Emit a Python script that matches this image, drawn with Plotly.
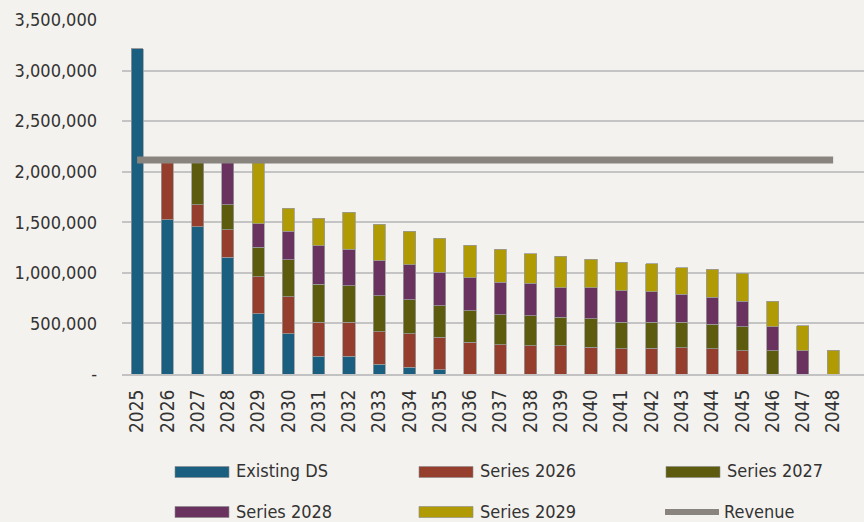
import plotly.graph_objects as go

years = [2025, 2026, 2027, 2028, 2029, 2030, 2031, 2032, 2033, 2034, 2035, 2036,
         2037, 2038, 2039, 2040, 2041, 2042, 2043, 2044, 2045, 2046, 2047, 2048, 2049]

existing_ds = [3215000, 1525000, 1458000, 1152000, 594000, 399000, 178000, 178000, 96000,
               66000, 40000, 0, 0, 0, 0, 0, 0, 0, 0, 0, 0, 0, 0, 0, 0]
series_2026 = [0, 580000, 215000, 274000, 369000, 367000, 334000, 334000, 323000, 330000,
               323000, 314000, 287000, 280000, 277000, 264000, 250000, 254000, 261000,
               248000, 231000, 0, 0, 0, 0]
series_2027 = [0, 0, 432000, 247000, 291000, 363000, 376000, 359000, 356000, 337000,
               310000, 310000, 297000, 297000, 284000, 284000, 262000, 258000, 251000,
               244000, 238000, 231000, 0, 0, 0]
series_2028 = [0, 0, 0, 432000, 231000, 284000, 382000, 363000, 344000, 346000, 334000,
               326000, 324000, 320000, 294000, 303000, 313000, 303000, 277000, 267000,
               251000, 238000, 231000, 0, 0]
series_2029 = [0, 0, 0, 0, 620000, 224000, 268000, 363000, 363000, 334000, 336000, 324000,
               323000, 294000, 307000, 284000, 281000, 277000, 264000, 277000, 277000,
               251000, 248000, 234000, 0]
revenue = [2116000, 2116000, 2116000, 2116000, 2116000, 2116000, 2116000, 2116000,
           2116000, 2116000, 2116000, 2116000, 2116000, 2116000, 2116000, 2116000,
           2116000, 2116000, 2116000, 2116000, 2116000, 2116000, 2116000, 2116000, None]

y_ticks = [0, 500000, 1000000, 1500000, 2000000, 2500000, 3000000, 3500000]
y_tick_text = ["-", "500,000", "1,000,000", "1,500,000", "2,000,000", "2,500,000",
               "3,000,000", "3,500,000"]

bar_series = [
    ("Existing DS", existing_ds, "#1b5f80"),
    ("Series 2026", series_2026, "#963e2d"),
    ("Series 2027", series_2027, "#5c5b0e"),
    ("Series 2028", series_2028, "#6a335f"),
    ("Series 2029", series_2029, "#b19b05"),
]
revenue_name = "Revenue"
revenue_color = "#8a847f"

FONT = "Liberation Sans Narrow, DejaVu Sans Condensed, Arial Narrow, Liberation Sans, Arial, sans-serif"
TEXT_COLOR = "#333333"
BG = "#f3f2ee"

fig = go.Figure()
for name, vals, color in bar_series:
    fig.add_trace(go.Bar(
        x=years, y=vals, name=name, width=0.4,
        marker=dict(color=color, line=dict(color="#9a9a9a", width=0.8)),
        showlegend=False,
    ))
fig.add_trace(go.Scatter(
    x=years, y=revenue, name=revenue_name, mode="lines",
    line=dict(color=revenue_color, width=7), showlegend=False,
))

W, H = 864, 522
ML, MR, MT, MB = 122, 0, 20, 522 - 374
pw, ph = W - ML - MR, H - MT - MB


def px_to_paper(x, y):
    return (x - ML) / pw, (H - MB - y) / ph


legend_items = [
    (bar_series[0][0], bar_series[0][2], "bar", 175, 472),
    (bar_series[1][0], bar_series[1][2], "bar", 419, 472),
    (bar_series[2][0], bar_series[2][2], "bar", 666, 472),
    (bar_series[3][0], bar_series[3][2], "bar", 175, 512),
    (bar_series[4][0], bar_series[4][2], "bar", 419, 512),
    (revenue_name, revenue_color, "line", 662, 512),
]
shapes = []
annotations = []
for name, color, kind, x0, yc in legend_items:
    if kind == "bar":
        a = px_to_paper(x0, yc - 5.5)
        b = px_to_paper(x0 + 54, yc + 5.5)
        shapes.append(dict(type="rect", xref="paper", yref="paper",
                           x0=a[0], y0=b[1], x1=b[0], y1=a[1],
                           fillcolor=color, line=dict(color="#8a8a8a", width=0.6)))
        tx = x0 + 59
    else:
        a = px_to_paper(x0 + 3, yc)
        b = px_to_paper(x0 + 57, yc)
        shapes.append(dict(type="line", xref="paper", yref="paper",
                           x0=a[0], y0=a[1], x1=b[0], y1=b[1],
                           line=dict(color=color, width=6)))
        tx = x0 + 60
    t = px_to_paper(tx, yc - 1)
    annotations.append(dict(xref="paper", yref="paper", x=t[0], y=t[1], text=name,
                            showarrow=False, xanchor="left", yanchor="middle",
                            font=dict(family=FONT, size=18, color=TEXT_COLOR)))

fig.update_layout(
    width=W, height=H,
    margin=dict(l=ML, r=MR, t=MT, b=MB, pad=0),
    barmode="stack",
    paper_bgcolor=BG, plot_bgcolor=BG,
    showlegend=False,
    shapes=shapes, annotations=annotations,
    font=dict(family=FONT, size=18, color=TEXT_COLOR),
    xaxis=dict(
        range=[2024.5, 2049.02], tickmode="array", tickvals=years,
        ticktext=[str(y) for y in years], tickangle=-90,
        showgrid=False, zeroline=False, showline=True, linecolor="#c2c2c2", linewidth=2,
        ticks="", ticklabelstandoff=6,
        tickfont=dict(family=FONT, size=19, color=TEXT_COLOR),
    ),
    yaxis=dict(
        range=[0, 3500000], tickmode="array", tickvals=y_ticks, ticktext=y_tick_text,
        showgrid=True, gridcolor="#c4c4c4", gridwidth=2, zeroline=False,
        showline=False, ticks="", ticklabelstandoff=24,
        tickfont=dict(family=FONT, size=18, color=TEXT_COLOR),
    ),
)

fig.write_html(
    "out.html",
    config={"displayModeBar": False},
    post_script="document.body.style.margin='0';document.body.style.background='#f3f2ee';"
                "document.body.style.overflow='hidden';",
)
